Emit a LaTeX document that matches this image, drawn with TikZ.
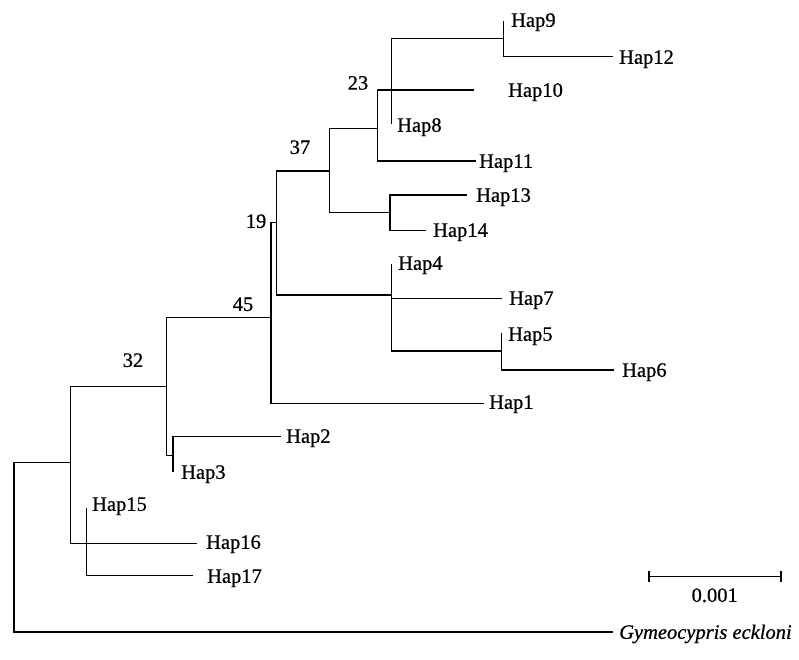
\documentclass[tikz,border=0pt]{standalone}
\usepackage{fontspec}
\setmainfont{Liberation Serif}
\newfontfamily\treefont{Liberation Serif}[FakeBold=0.7]
\newfontfamily\treeitfont{Liberation Serif Italic}[FakeBold=0.7]
\begin{document}
\begin{tikzpicture}[x=1pt,y=-1pt,
  branch/.style={line width=1.1pt, line cap=rect},
  leaf/.style={anchor=base west, inner sep=0pt, yshift=-6.8pt,
    font=\treefont\fontsize{20.5}{24}\selectfont},
  boot/.style={anchor=base, inner sep=0pt, yshift=-6.9pt,
    font=\treefont\fontsize{20.5}{24}\selectfont}]
\useasboundingbox (0,0) rectangle (799,659);

% internal nodes (x = depth, y = where the parent branch meets them)
\coordinate (r)   at (14,462.7);
\coordinate (n32) at (70.3,462.7);
\coordinate (n15) at (86.7,543.3);
\coordinate (nA)  at (166.7,386.7);
\coordinate (nB)  at (173,455.7);
\coordinate (n45) at (271,317.7);
\coordinate (n19) at (276.7,222.7);
\coordinate (n37) at (329.3,171);
\coordinate (nE)  at (390,212.7);
\coordinate (n23) at (377.5,128.3);
\coordinate (nF)  at (391.7,90);
\coordinate (nG)  at (503.3,38.3);
\coordinate (nC)  at (391.7,295);
\coordinate (nD)  at (501.7,351);

% tips
\coordinate (t9)  at (503.3,21.7);
\coordinate (t12) at (612,56.7);
\coordinate (t10) at (473,90);
\coordinate (t8)  at (391.7,123);
\coordinate (t11) at (475,161);
\coordinate (t13) at (466,195);
\coordinate (t14) at (425,230.7);
\coordinate (t4)  at (391.7,265);
\coordinate (t7)  at (501.7,298.3);
\coordinate (t5)  at (501.7,334);
\coordinate (t6)  at (613,370);
\coordinate (t1)  at (483.3,403.3);
\coordinate (t2)  at (280,436.7);
\coordinate (t3)  at (173,471.7);
\coordinate (t15) at (86.7,508.3);
\coordinate (t16) at (196.7,543.3);
\coordinate (t17) at (192.7,575.7);
\coordinate (tg)  at (612,632);

% branches: vertical at the parent, then horizontal to the child
\draw[branch] (r) |- (n32);
\draw[branch] (r) |- (tg);
\draw[branch] (n32) |- (nA);
\draw[branch] (n32) |- (t16);
\draw[branch] (n32) |- (n15);
\draw[branch] (n15) |- (t15);
\draw[branch] (n15) |- (t17);
\draw[branch] (nA) |- (n45);
\draw[branch] (nA) |- (nB);
\draw[branch] (nB) |- (t2);
\draw[branch] (nB) |- (t3);
\draw[branch] (n45) |- (n19);
\draw[branch] (n45) |- (t1);
\draw[branch] (n19) |- (n37);
\draw[branch] (n19) |- (nC);
\draw[branch] (nC) |- (t4);
\draw[branch] (nC) |- (t7);
\draw[branch] (nC) |- (nD);
\draw[branch] (nD) |- (t5);
\draw[branch] (nD) |- (t6);
\draw[branch] (n37) |- (n23);
\draw[branch] (n37) |- (nE);
\draw[branch] (nE) |- (t13);
\draw[branch] (nE) |- (t14);
\draw[branch] (n23) |- (t10);
\draw[branch] (n23) |- (t11);
\draw[branch] (n23) |- (nF);
\draw[branch] (nF) |- (nG);
\draw[branch] (nF) |- (t8);
\draw[branch] (nG) |- (t9);
\draw[branch] (nG) |- (t12);

% tip labels
\node[leaf] (l9)  at (511,20)   {Hap9};
\node[leaf] (l12) at (619,57)   {Hap12};
\node[leaf] (l10) at (508,90)   {Hap10};
\node[leaf] (l8)  at (397,125)  {Hap8};
\node[leaf] (l11) at (479,161)  {Hap11};
\node[leaf] (l13) at (476,195)  {Hap13};
\node[leaf] (l14) at (433,230)  {Hap14};
\node[leaf] (l4)  at (398,263)  {Hap4};
\node[leaf] (l7)  at (509,298)  {Hap7};
\node[leaf] (l5)  at (508,334)  {Hap5};
\node[leaf] (l6)  at (622,370)  {Hap6};
\node[leaf] (l1)  at (489,402)  {Hap1};
\node[leaf] (l2)  at (286,436)  {Hap2};
\node[leaf] (l3)  at (181,472)  {Hap3};
\node[leaf] (l15) at (92,504)   {Hap15};
\node[leaf] (l16) at (206,542)  {Hap16};
\node[leaf] (l17) at (207,576)  {Hap17};
\node[leaf, font=\treeitfont\fontsize{20.5}{24}\selectfont] (lg) at (619,632) {Gymeocypris eckloni};

% bootstrap values
\node[boot] (b23) at (358,82.7) {23};
\node[boot] (b37) at (300,147)  {37};
\node[boot] (b19) at (256,221)  {19};
\node[boot] (b45) at (243,304)  {45};
\node[boot] (b32) at (133,360)  {32};

% scale bar
\coordinate (sa) at (649,576.7);
\coordinate (sb) at (781,576.7);
\draw[branch] (sa) -- (sb);
\draw[line width=1.1pt] ([yshift=5.5pt]sa) -- ([yshift=-5.5pt]sa);
\draw[line width=1.1pt] ([yshift=5.5pt]sb) -- ([yshift=-5.5pt]sb);
\node[boot] (sl) at (714.7,595) {0.001};
\end{tikzpicture}
\end{document}
